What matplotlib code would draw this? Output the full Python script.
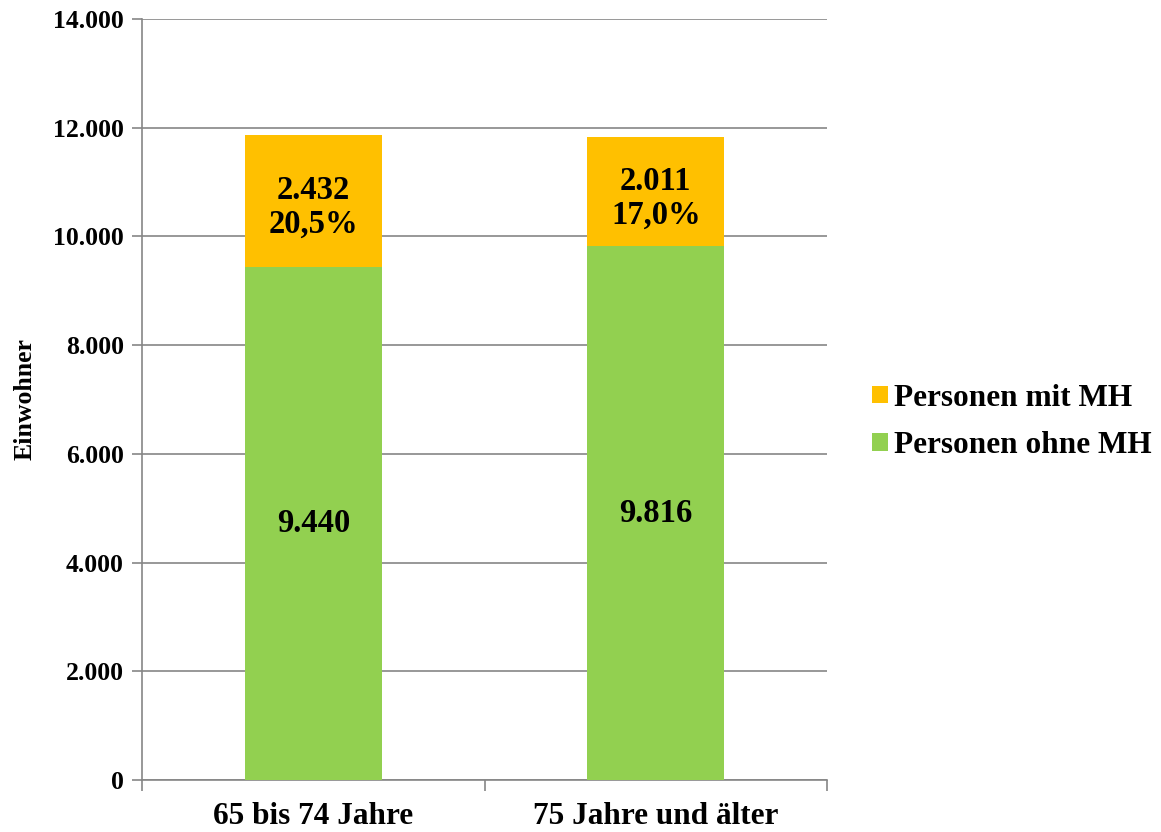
import numpy as np
import matplotlib.pyplot as plt
from matplotlib.ticker import FuncFormatter

# Data
categories = ['65 bis 74 Jahre', '75 Jahre und älter']
ohne_mh = [9440, 9816]
mit_mh = [2432, 2011]

green = '#92D050'
orange = '#FFC000'
grid_gray = '#868686'

plt.rcParams['font.family'] = ['Liberation Serif', 'DejaVu Serif']
plt.rcParams['font.weight'] = 'bold'

fig = plt.figure(figsize=(11.61, 8.32), dpi=100)
ax = fig.add_axes([142/1161, 1-780/832, (827-142)/1161, (780-19)/832])

x = np.arange(len(categories))
b1 = ax.bar(x, ohne_mh, 0.4, color=green, label='Personen ohne MH', zorder=3)
b2 = ax.bar(x, mit_mh, 0.4, bottom=ohne_mh, color=orange, label='Personen mit MH', zorder=3)

def de(n):
    return f'{n:,}'.replace(',', '.')

for i in range(len(categories)):
    total = ohne_mh[i] + mit_mh[i]
    pct = f'{100*mit_mh[i]/total:.1f}%'.replace('.', ',')
    ax.text(x[i], ohne_mh[i]/2, de(ohne_mh[i]), ha='center', va='center',
            fontsize=23.5, fontweight='bold', zorder=4)
    ax.annotate(de(mit_mh[i]) + '\n' + pct, (x[i], ohne_mh[i] + mit_mh[i]/2),
                xytext=(0, -5), textcoords='offset points',
                ha='center', va='center', fontsize=23.5, fontweight='bold',
                linespacing=1.12, zorder=4)

ax.set_xlim(-0.5, 1.5)
ax.set_ylim(0, 14000)
ax.set_yticks(np.arange(0, 14001, 2000))
ax.yaxis.set_major_formatter(FuncFormatter(lambda v, p: de(int(v))))
ax.grid(axis='y', color=grid_gray, linewidth=1.2, zorder=0)

ax.set_xticks(x)
ax.set_xticklabels(categories, fontsize=22.5, fontweight='bold')
ax.set_xticks([-0.5, 0.5, 1.5], minor=True)
ax.tick_params(axis='x', which='major', length=0, pad=16)
ax.tick_params(axis='x', which='minor', length=8, color=grid_gray, width=1.2)
ax.tick_params(axis='y', length=7, color=grid_gray, width=1.2, labelsize=18.5, pad=6)

for s in ['top', 'right']:
    ax.spines[s].set_visible(False)
for s in ['left', 'bottom']:
    ax.spines[s].set_color(grid_gray)
    ax.spines[s].set_linewidth(1.2)

ax.set_ylabel('Einwohner', fontsize=18.5, fontweight='bold', labelpad=12)

handles = [b2, b1]
fig.legend(handles, [h.get_label() for h in handles], loc='center left',
           bbox_to_anchor=(872/1161, 1-422/832), frameon=False, borderpad=0,
           borderaxespad=0, prop={'size': 22.5, 'weight': 'bold'},
           handlelength=0.5, handleheight=0.5, handletextpad=0.2,
           labelspacing=0.6)

fig.savefig('out.png', dpi=100)
